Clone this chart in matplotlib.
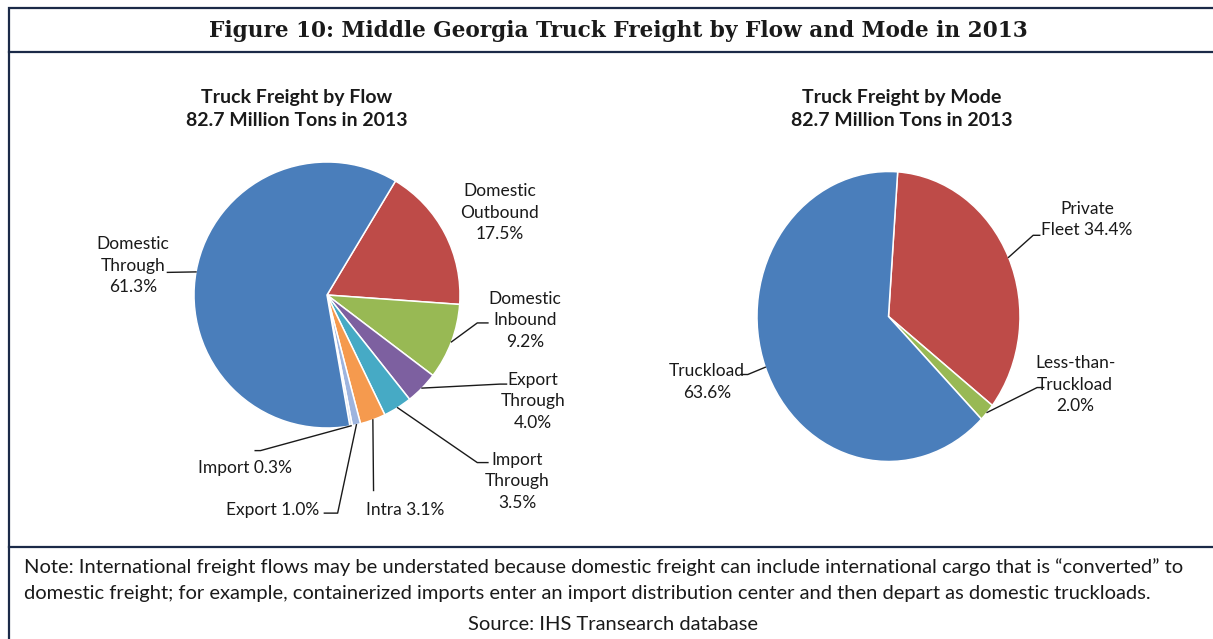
import numpy as np
import matplotlib.pyplot as plt

W, H, DPI = 1213, 639, 100

# Truck freight by flow (percent of 82.7 million tons)
flow_fmt = ["Domestic\nOutbound\n{:.1f}%", "Domestic\nInbound\n{:.1f}%",
            "Export\nThrough\n{:.1f}%", "Import\nThrough\n{:.1f}%",
            "Intra {:.1f}%", "Export {:.1f}%", "Import {:.1f}%",
            "Domestic\nThrough\n{:.1f}%"]
flow_share = [17.5, 9.2, 4.0, 3.5, 3.1, 1.0, 0.3, 61.3]
flow_colors = ["#BE4B48", "#98B954", "#7D60A0", "#46AAC5",
               "#F59A4E", "#9DB4DE", "#D3DDEF", "#4A7EBB"]

# Truck freight by mode
mode_fmt = ["Private\nFleet {:.1f}%", "Less-than-\nTruckload\n{:.1f}%",
            "Truckload\n{:.1f}%"]
mode_share = [34.4, 2.0, 63.6]
mode_colors = ["#BE4B48", "#98B954", "#4A7EBB"]

title = "Figure 10: Middle Georgia Truck Freight by Flow and Mode in 2013"
subtitle_flow = "Truck Freight by Flow\n82.7 Million Tons in 2013"
subtitle_mode = "Truck Freight by Mode\n82.7 Million Tons in 2013"
note_lines = [
    "Note: International freight flows may be understated because domestic freight "
    "can include international cargo that is \u201cconverted\u201d to",
    "domestic freight; for example, containerized imports enter an import "
    "distribution center and then depart as domestic truckloads.",
]
source = "Source: IHS Transearch database"

# label placement in pie radius units: text centre, elbow, tail, anchor angle
flow_callouts = [
    (1.30, 0.62, None, None, 0, None),
    (1.49, -0.19, 1.13, -0.21, 0.08, None),
    (1.55, -0.80, 1.30, -0.67, 0.05, None),
    (1.43, -1.40, 1.13, -1.26, 0.08, None),
    (0.59, -1.62, 0.35, -1.47, 0, None),
    (-0.41, -1.62, 0.08, -1.64, -0.10, None),
    (-0.62, -1.30, -0.50, -1.17, -0.04, None),
    (-1.46, 0.22, -1.20, 0.17, 0, 170),
]
mode_callouts = [
    (1.51, 0.67, 1.10, 0.56, 0.05, None),
    (1.42, -0.47, 1.13, -0.49, 0.05, None),
    (-1.38, -0.45, -1.07, -0.40, -0.05, None),
]

FONT = "Lato"
INK = "#1A1A1A"
NAVY = "#1B2A48"

fig = plt.figure(figsize=(W / DPI, H / DPI), dpi=DPI, facecolor="white")

# frame and captions in pixel coordinates
bg = fig.add_axes([0, 0, 1, 1])
bg.set_xlim(0, W)
bg.set_ylim(H, 0)
bg.axis("off")
bg.plot([1240, 9, 9], [8, 8, H + 5], color=NAVY, lw=1.6, solid_joinstyle="miter")
bg.plot([9, 1240], [52, 52], color=NAVY, lw=1.6)
bg.plot([9, 1240], [547, 547], color=NAVY, lw=1.6)

bg.text(618, 31, title, ha="center", va="center", fontsize=15.6,
        fontweight="bold", family="DejaVu Serif", color=INK)
bg.text(297, 109, subtitle_flow, ha="center", va="center", fontsize=14,
        fontweight="bold", family=FONT, color=INK, linespacing=1.4)
bg.text(902, 109, subtitle_mode, ha="center", va="center", fontsize=14,
        fontweight="bold", family=FONT, color=INK, linespacing=1.4)
for y, line in zip([567, 594], note_lines):
    bg.text(24, y, line, ha="left", va="center", fontsize=14.5,
            family=FONT, color=INK)
bg.text(613, 624, source, ha="center", va="center", fontsize=14.5,
        family=FONT, color=INK)


def pie_axes(cx, cy, rx, ry, pad=1.9):
    ax = fig.add_axes([(cx - pad * rx) / W, 1 - (cy + pad * ry) / H,
                       2 * pad * rx / W, 2 * pad * ry / H])
    ax.patch.set_alpha(0)
    return ax, pad


def draw_pie(ax, pad, shares, colors, fmts, callouts, start):
    wedges, _ = ax.pie(shares, colors=colors, startangle=start,
                       counterclock=False, radius=1,
                       wedgeprops=dict(edgecolor="white", linewidth=1.1))
    ax.set_aspect("auto")
    ax.set_xlim(-pad, pad)
    ax.set_ylim(-pad, pad)
    ax.axis("off")
    for w, v, fmt, (tx, ty, ex, ey, tail, ang) in zip(wedges, shares, fmts, callouts):
        ax.text(tx, ty, fmt.format(v), ha="center", va="center",
                multialignment="center", fontsize=12.5, family=FONT,
                color=INK, linespacing=1.43)
        if ex is None:
            continue
        if ang is None:
            ang = (w.theta1 + w.theta2) / 2
        a = np.radians(ang)
        ax.plot([np.cos(a), ex, ex + tail], [np.sin(a), ey, ey],
                color=INK, lw=1.0, clip_on=False)


ax1, p1 = pie_axes(327, 295, 133, 133)
draw_pie(ax1, p1, flow_share, flow_colors, flow_fmt, flow_callouts, 59)

ax2, p2 = pie_axes(888.5, 316.5, 131.5, 145)
draw_pie(ax2, p2, mode_share, mode_colors, mode_fmt, mode_callouts, 86)

fig.savefig("out.png", dpi=DPI, facecolor="white")
